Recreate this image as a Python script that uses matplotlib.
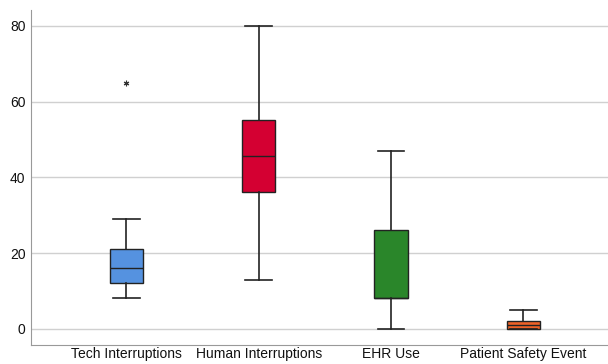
import matplotlib
matplotlib.use("Agg")
import matplotlib.pyplot as plt

categories = ["Tech Interruptions", "Human Interruptions", "EHR Use", "Patient Safety Event"]
whislo = [8, 13, 0, 0]
q1 = [12, 36, 8, 0]
med = [16, 45.5, 8, 1]
q3 = [21, 55, 26, 2]
whishi = [29, 80, 47, 5]
outliers = [[65], [], [], []]
colors = ["#5592E0", "#D40032", "#2A862A", "#EE6228"]

plt.rcParams['font.family'] = ['Liberation Sans', 'DejaVu Sans']
fig = plt.figure(figsize=(6.08, 3.64), dpi=100)
ax = fig.add_axes([0.051, 0.053, 0.949, 0.92])

stats = []
for i, c in enumerate(categories):
    stats.append(dict(label=c, whislo=whislo[i], q1=q1[i], med=med[i], q3=q3[i],
                      whishi=whishi[i], fliers=outliers[i]))

bp = ax.bxp(stats, positions=range(len(categories)), widths=0.25, patch_artist=True,
            showfliers=True,
            boxprops=dict(linewidth=1.0, edgecolor="#222222"),
            medianprops=dict(color="#222222", linewidth=1.0),
            whiskerprops=dict(color="#222222", linewidth=1.2),
            capprops=dict(color="#222222", linewidth=1.2),
            flierprops=dict(marker=(6, 2, 0), markersize=4, markeredgecolor="#333333",
                            markeredgewidth=0.8, linestyle="none"),
            capwidths=0.2)
for patch, col in zip(bp['boxes'], colors):
    patch.set_facecolor(col)

ax.set_xlim(-0.72, 3.64)
ax.set_ylim(-4.2, 84.2)
ax.set_yticks([0, 20, 40, 60, 80])
ax.yaxis.grid(True, color="#d0d0d0", linewidth=1.0)
ax.set_axisbelow(True)
for s in ["top", "right"]:
    ax.spines[s].set_visible(False)
for s in ["left", "bottom"]:
    ax.spines[s].set_color("#999999")
ax.tick_params(axis="both", length=0, labelsize=10, colors="#111111")
ax.tick_params(axis="x", pad=1.5)
ax.tick_params(axis="y", pad=4)

fig.savefig("out.png", dpi=100)
